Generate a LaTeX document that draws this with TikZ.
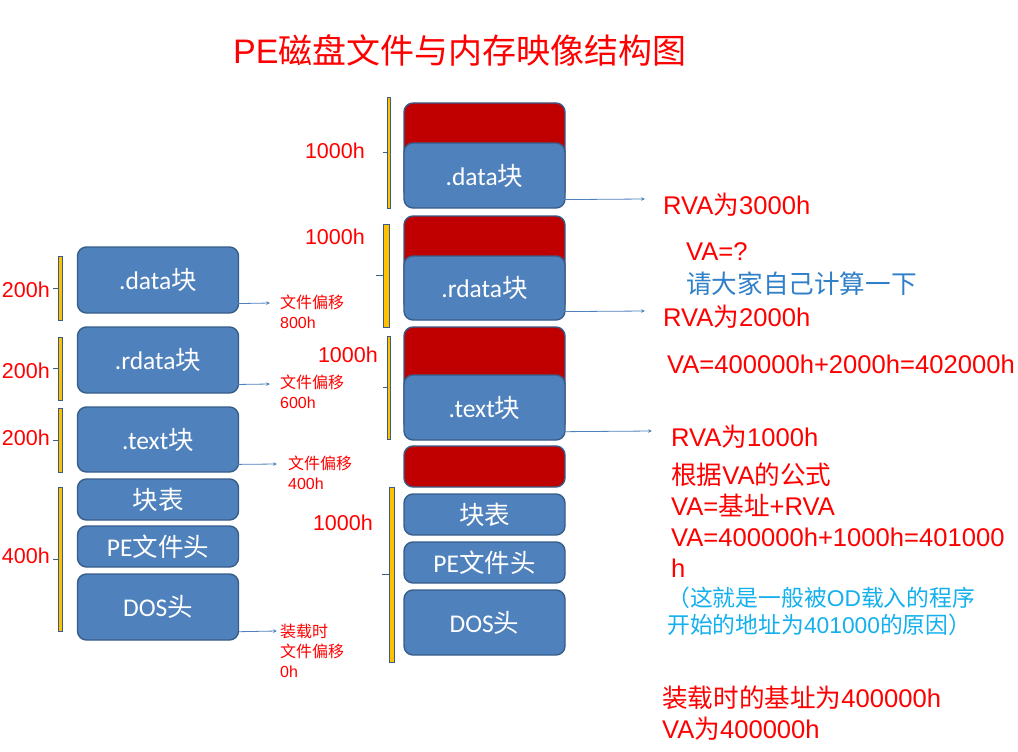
\documentclass[tikz,border=0pt]{standalone}
\usepackage{fontspec}
\setmainfont{Liberation Sans}
\newfontfamily\cjk{Noto Sans CJK SC}
\newfontfamily\boxfont{Carlito}
\usetikzlibrary{arrows.meta,positioning,calc}
\definecolor{secblue}{HTML}{4F81BD}
\definecolor{secedge}{HTML}{385D8A}
\definecolor{secred}{HTML}{C00000}
\definecolor{amber}{HTML}{FFC000}
\definecolor{alert}{HTML}{FF0000}
\definecolor{hint}{HTML}{2F80C8}
\definecolor{aside}{HTML}{14B0EE}
\newcommand\zh[1]{{\cjk #1}}
\tikzset{
  sec/.style={draw=secedge,line width=1.4pt,rounded corners=9pt,fill=secblue,text=white,inner sep=0pt,
    minimum width=161pt,font=\boxfont\fontsize{25.5}{30}\selectfont},
  gap/.style={sec,fill=secred},
  brk/.style={fill=amber,draw=secedge,line width=.4pt},
  brtick/.style={draw=secedge,line width=.6pt},
  sz/.style={font=\fontsize{21.5}{25}\selectfont,text=alert,inner sep=0pt,anchor=east},
  offs/.style={font=\fontsize{16}{20}\selectfont,text=alert,align=left,inner sep=0pt,anchor=north west},
  note/.style={font=\fontsize{25.6}{31}\selectfont,text=alert,align=left,inner sep=0pt,anchor=west},
  ar/.style={-{Stealth[length=4pt,width=3.5pt]},draw=secblue,line width=.8pt},
}
\begin{document}
\begin{tikzpicture}[x=1pt,y=-1pt]
  \useasboundingbox[fill=white] (0,0) rectangle (1018,752);
  \node[font=\fontsize{34}{40}\selectfont,text=alert,anchor=west,inner sep=0pt] (title) at (233,50) {PE\zh{磁盘文件与内存映像结构图}};
  % file on disk
  \node[sec,minimum height=66pt] (fData) at (158,280) {.data\zh{块}};
  \node[sec,minimum height=66pt,below=12.6pt of fData] (fRdata) {.rdata\zh{块}};
  \node[sec,minimum height=65pt,below=12.6pt of fRdata] (fText) {.text\zh{块}};
  \node[sec,minimum height=41pt,below=5.6pt of fText] (fSect) {\zh{块表}};
  \node[sec,minimum height=41pt,below=4.6pt of fSect] (fPe) {PE\zh{文件头}};
  \node[sec,minimum height=66pt,below=5.6pt of fPe] (fDos) {DOS\zh{头}};
  % image in memory
  \node[gap,minimum height=97pt] (mPad3) at (484.5,151.5) {};
  \node[sec,minimum height=65pt] (mData) at (484.5,175.5) {.data\zh{块}};
  \node[gap,minimum height=96pt] (mPad2) at (484.5,264) {};
  \node[sec,minimum height=64pt] (mRdata) at (484.5,288) {.rdata\zh{块}};
  \node[gap,minimum height=105pt] (mPad1) at (484.5,379.5) {};
  \node[sec,minimum height=65pt] (mText) at (484.5,407.5) {.text\zh{块}};
  \node[gap,minimum height=41pt] (mPad0) at (484.5,466.5) {};
  \node[sec,minimum height=41pt,below=5.6pt of mPad0] (mSect) {\zh{块表}};
  \node[sec,minimum height=41pt,below=5.6pt of mSect] (mPe) {PE\zh{文件头}};
  \node[sec,minimum height=65pt,below=5.6pt of mPe] (mDos) {DOS\zh{头}};
  % size brackets
  \foreach \xa/\xb/\ya/\yb/\xt in {58/62/256/320/53,58/62/337/400/53,58/62/408/472/53,58/62/487/631/53,
      387/390/97/208/383,383/389/224/327/376,387/390/336/439/383,389/394/487/662/382} {
    \pgfmathsetmacro{\ym}{(\ya+\yb)/2}
    \draw[brk] (\xa,\ya) rectangle (\xb,\yb);
    \draw[brtick] (\xt,\ym) -- (\xa,\ym);
  }
  \node[sz] (szData) at (50,290) {200h};
  \node[sz] (szRdata) at (50,371) {200h};
  \node[sz] (szText) at (50,438) {200h};
  \node[sz] (szHead) at (50,556) {400h};
  \node[sz] (szM3) at (365,151) {1000h};
  \node[sz] (szM2) at (365,237) {1000h};
  \node[sz] (szM1) at (378,355) {1000h};
  \node[sz] (szM0) at (373,523) {1000h};
  % file offsets
  \coordinate (oData) at (270,303);
  \coordinate (oRdata) at (270,384);
  \coordinate (oText) at (277,464);
  \coordinate (oDos) at (277,631);
  \draw[ar] ([xshift=-8pt,yshift=10pt]fData.south east) -- (oData);
  \draw[ar] ([xshift=-18pt,yshift=9pt]fRdata.south east) -- (oRdata);
  \draw[ar] ([xshift=-33pt,yshift=8pt]fText.south east) -- (oText);
  \draw[ar] ([yshift=9pt]fDos.south east) -- (oDos);
  \node[offs] (tData) at (280,295) {\zh{文件偏移}\\800h};
  \node[offs] (tRdata) at (280,375) {\zh{文件偏移}\\600h};
  \node[offs] (tText) at (288,456) {\zh{文件偏移}\\400h};
  \node[offs] (tDos) at (280,624) {\zh{装载时}\\\zh{文件偏移}\\0h};
  % RVA side
  \coordinate (rData) at (645,199);
  \coordinate (rRdata) at (645,311);
  \coordinate (rText) at (652,431);
  \draw[ar] ([xshift=-17pt,yshift=9pt]mData.south east) -- (rData);
  \draw[ar] ([xshift=-17pt,yshift=9pt]mRdata.south east) -- (rRdata);
  \draw[ar] ([xshift=-2pt,yshift=9pt]mText.south east) -- (rText);
  \node[note] (vData) at (663,205) {RVA\zh{为}3000h};
  \node[note] (vAsk) at (686,252) {VA=?};
  \node[note,text=hint] (vHint) at (686,284) {\zh{请大家自己计算一下}};
  \node[note] (vRdata) at (663,317) {RVA\zh{为}2000h};
  \node[note] (vRsum) at (667,364) {VA=400000h+2000h=402000h};
  \node[note] (vText) at (671,437) {RVA\zh{为}1000h};
  \node[note,anchor=north west] (vRule) at (671,463) {\zh{根据}VA\zh{的公式}\\VA=\zh{基址}+RVA\\VA=400000h+1000h=401000\\h};
  \node[note,anchor=north west,text=aside,font=\fontsize{22.8}{27}\selectfont] (vWhy) at (667,587)
    {\zh{（这就是一般被}OD\zh{载入的程序}\\\zh{开始的地址为}401000\zh{的原因）}};
  \node[note,anchor=north west] (vBase) at (662,686) {\zh{装载时的基址为}400000h\\VA\zh{为}400000h};
\end{tikzpicture}
\end{document}
